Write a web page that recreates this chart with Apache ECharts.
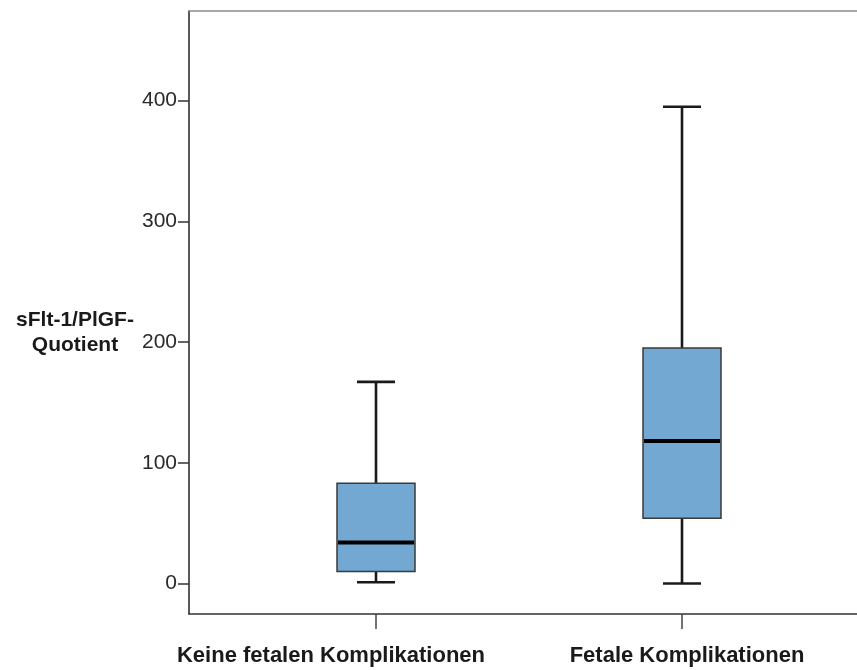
<!DOCTYPE html>
<html>
<head>
<meta charset="utf-8">
<script src="https://cdn.jsdelivr.net/npm/echarts@6/dist/echarts.min.js"></script>
<style>
  html, body { margin: 0; padding: 0; background: #fff; overflow: hidden; }
  #chart { width: 857px; height: 670px; }
</style>
</head>
<body>
<div id="chart"></div>
<script>
// Groups and five-number summaries of the sFlt-1/PlGF ratio
const categories = ['Keine fetalen Komplikationen', 'Fetale Komplikationen'];
const whiskerLow = [1, 0];
const quartile1 = [10, 54];
const medians = [34, 118];
const quartile3 = [83, 195];
const whiskerHigh = [167, 395];
const yTicks = [0, 100, 200, 300, 400];
const yTitle = 'sFlt-1/PlGF-\nQuotient';

const FONT = '"Liberation Sans", Arial, sans-serif';
const Y_MIN = -25.3, Y_MAX = 474.3;

const boxData = categories.map((c, i) => [i, whiskerLow[i], quartile1[i], medians[i], quartile3[i], whiskerHigh[i]]);

function renderBox(params, api) {
  const cat = api.value(0);
  const low = api.coord([cat, api.value(1)]);
  const q1 = api.coord([cat, api.value(2)]);
  const med = api.coord([cat, api.value(3)]);
  const q3 = api.coord([cat, api.value(4)]);
  const high = api.coord([cat, api.value(5)]);
  const cx = low[0];
  const halfBox = 39, halfCap = 19;
  const whiskerStyle = { stroke: '#1a1a1a', lineWidth: 2.6 };
  return {
    type: 'group',
    children: [
      { type: 'line', shape: { x1: cx, y1: q3[1], x2: cx, y2: high[1] }, style: whiskerStyle },
      { type: 'line', shape: { x1: cx, y1: q1[1], x2: cx, y2: low[1] }, style: whiskerStyle },
      { type: 'line', shape: { x1: cx - halfCap, y1: high[1], x2: cx + halfCap, y2: high[1] }, style: whiskerStyle },
      { type: 'line', shape: { x1: cx - halfCap, y1: low[1], x2: cx + halfCap, y2: low[1] }, style: whiskerStyle },
      { type: 'rect', shape: { x: cx - halfBox, y: q3[1], width: halfBox * 2, height: q1[1] - q3[1] },
        style: { fill: '#72a8d2', stroke: '#3a3a3a', lineWidth: 1.5 } },
      { type: 'line', shape: { x1: cx - halfBox + 1, y1: med[1], x2: cx + halfBox - 1, y2: med[1] },
        style: { stroke: '#000', lineWidth: 4 } }
    ]
  };
}

const chart = echarts.init(document.getElementById('chart'));
chart.setOption({
  animation: false,
  backgroundColor: '#fff',
  grid: [
    // outer frame with the value axis; runs past the right edge
    { left: 189, top: 11, right: -30, bottom: 56, outerBoundsMode: 'none', containLabel: false },
    // group positions
    { left: 223, top: 11, width: 612, bottom: 56, outerBoundsMode: 'none', containLabel: false }
  ],
  graphic: [
    { type: 'text', x: 75, y: 333, z: 10,
      style: { text: yTitle, x: 0, y: 0, align: 'center', verticalAlign: 'middle', lineHeight: 25,
        font: 'bold 21px ' + FONT, fill: '#1a1a1a' } }
  ],
  xAxis: [
    { gridIndex: 0, type: 'value', min: 0, max: 1, position: 'bottom',
      axisLine: { show: true, onZero: false, lineStyle: { color: '#333', width: 1.5 } },
      axisTick: { show: false }, axisLabel: { show: false }, splitLine: { show: false } },
    { gridIndex: 0, type: 'value', min: 0, max: 1, position: 'top',
      axisLine: { show: true, onZero: false, lineStyle: { color: '#8c8c8c', width: 1.5 } },
      axisTick: { show: false }, axisLabel: { show: false }, splitLine: { show: false } },
    { gridIndex: 1, type: 'category', data: [
        { value: categories[0], textStyle: { padding: [0, 90, 0, 0] } },
        { value: categories[1], textStyle: { padding: [0, 0, 0, 10] } }
      ],
      axisLine: { show: false, onZero: false },
      axisTick: { show: true, alignWithLabel: true, length: 15, lineStyle: { color: '#444', width: 1.5 } },
      axisLabel: { show: true, margin: 31, interval: 0, fontFamily: FONT, fontSize: 22, fontWeight: 'bold', color: '#1a1a1a' },
      splitLine: { show: false } }
  ],
  yAxis: [
    { gridIndex: 0, type: 'value', min: Y_MIN, max: Y_MAX,
      axisLine: { show: true, onZero: false, lineStyle: { color: '#222', width: 1.5 } },
      axisTick: { show: true, length: 11, customValues: yTicks, lineStyle: { color: '#333', width: 1.5 } },
      axisLabel: { show: true, margin: 12, customValues: yTicks, fontFamily: FONT, fontSize: 21, color: '#2a2a2a' },
      splitLine: { show: false } },
    { gridIndex: 1, type: 'value', min: Y_MIN, max: Y_MAX, show: false, splitLine: { show: false } }
  ],
  series: [
    { type: 'custom', xAxisIndex: 2, yAxisIndex: 1, data: boxData,
      encode: { x: 0, y: [1, 2, 3, 4, 5] }, renderItem: renderBox, clip: false }
  ]
});
</script>
</body>
</html>
